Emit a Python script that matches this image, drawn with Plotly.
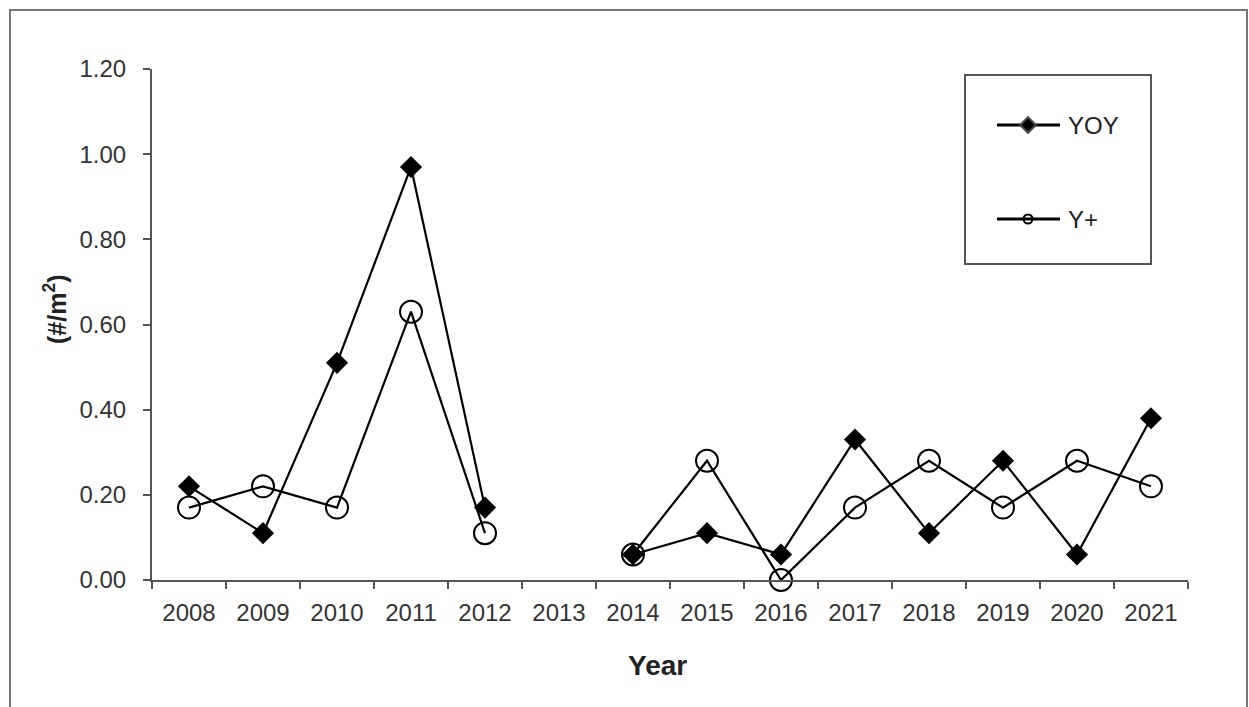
import plotly.graph_objects as go

# Survey years and densities (#/m²); 2013 was not sampled
years = ["2008", "2009", "2010", "2011", "2012", "2013", "2014",
         "2015", "2016", "2017", "2018", "2019", "2020", "2021"]
yoy = [0.22, 0.11, 0.51, 0.97, 0.17, None, 0.06,
       0.11, 0.06, 0.33, 0.11, 0.28, 0.06, 0.38]
yplus = [0.17, 0.22, 0.17, 0.63, 0.11, None, 0.06,
         0.28, 0.00, 0.17, 0.28, 0.17, 0.28, 0.22]
y_ticks = [0.0, 0.2, 0.4, 0.6, 0.8, 1.0, 1.2]

W, H = 1249, 707
L, R, T, B = 152, 1188, 69, 580  # plot area in pixels
FONT = "Arial, Liberation Sans, sans-serif"
AXIS = "#555555"


def px(x):
    return (x - L) / (R - L)


def py(y):
    return (B - y) / (B - T)


fig = go.Figure()

fig.add_trace(go.Scatter(
    x=years, y=yoy, name="YOY", mode="lines+markers",
    line=dict(color="black", width=2.2), connectgaps=False,
    marker=dict(symbol="diamond", size=17, color="black", line=dict(width=0)),
    showlegend=False, cliponaxis=False))
fig.add_trace(go.Scatter(
    x=years, y=yplus, name="Y+", mode="lines+markers",
    line=dict(color="black", width=2.2), connectgaps=False,
    marker=dict(symbol="circle-open", size=22, color="black", line=dict(width=2)),
    showlegend=False, cliponaxis=False))

# Hand-drawn legend on a pixel-scaled overlay axis
leg_rows = [("YOY", 125, "diamond", 12), ("Y+", 219, "circle-open", 9)]
for label, ry, sym, sz in leg_rows:
    fig.add_trace(go.Scatter(
        x=[997, 1028, 1060], y=[ry, ry, ry], mode="lines",
        line=dict(color="black", width=3), xaxis="x2", yaxis="y2",
        showlegend=False, hoverinfo="skip"))
    fig.add_trace(go.Scatter(
        x=[1028], y=[ry], mode="markers",
        marker=dict(symbol=sym, size=sz, color="black", line=dict(width=2)),
        xaxis="x2", yaxis="y2", showlegend=False, hoverinfo="skip"))
    fig.add_annotation(x=1066, y=ry, xref="x2", yref="y2", text=label,
                       showarrow=False, xanchor="left", yanchor="middle",
                       font=dict(family=FONT, size=24, color="#222"))

shapes = [
    # outer frame
    dict(type="rect", xref="paper", yref="paper",
         x0=px(10), x1=px(1247), y0=py(740), y1=py(10),
         line=dict(color="#777777", width=2), fillcolor="rgba(0,0,0,0)", layer="below"),
    # legend box
    dict(type="rect", xref="paper", yref="paper",
         x0=px(965), x1=px(1151), y0=py(264), y1=py(75),
         line=dict(color="#555555", width=2), fillcolor="rgba(0,0,0,0)", layer="below"),
]

fig.add_annotation(x=px(657), y=py(665), xref="paper", yref="paper",
                   xanchor="center", yanchor="middle",
                   text="<b>Year</b>", showarrow=False,
                   font=dict(family=FONT, size=28, color="#222"))
fig.add_annotation(x=px(55), y=py(310), xref="paper", yref="paper",
                   xanchor="center", yanchor="middle",
                   text="<b>(#/m<sup>2</sup>)</b>", showarrow=False, textangle=-90,
                   font=dict(family=FONT, size=25, color="#222"))

fig.update_layout(
    width=W, height=H,
    margin=dict(l=L, r=W - R, t=T, b=H - B, pad=0),
    paper_bgcolor="white", plot_bgcolor="white",
    shapes=shapes,
    xaxis=dict(type="category", categoryorder="array", categoryarray=years,
               range=[-0.5, len(years) - 0.5], tickson="boundaries",
               ticks="outside", ticklen=7, tickwidth=2, tickcolor=AXIS,
               showline=True, linecolor=AXIS, linewidth=2, showgrid=False,
               zeroline=False, ticklabelstandoff=10,
               tickfont=dict(family=FONT, size=24, color="#333")),
    yaxis=dict(range=[0, 1.2], tickvals=y_ticks, tickformat=".2f",
               ticks="outside", ticklen=7, tickwidth=2, tickcolor=AXIS,
               showline=True, linecolor=AXIS, linewidth=2, showgrid=False,
               zeroline=False, ticklabelstandoff=12,
               tickfont=dict(family=FONT, size=24, color="#333")),
    xaxis2=dict(domain=[0, 1], range=[L, R], visible=False, anchor="y2",
                overlaying="x", fixedrange=True),
    yaxis2=dict(domain=[0, 1], range=[B, T], visible=False, anchor="x2",
                overlaying="y", fixedrange=True),
)

fig.write_html("out.html")
